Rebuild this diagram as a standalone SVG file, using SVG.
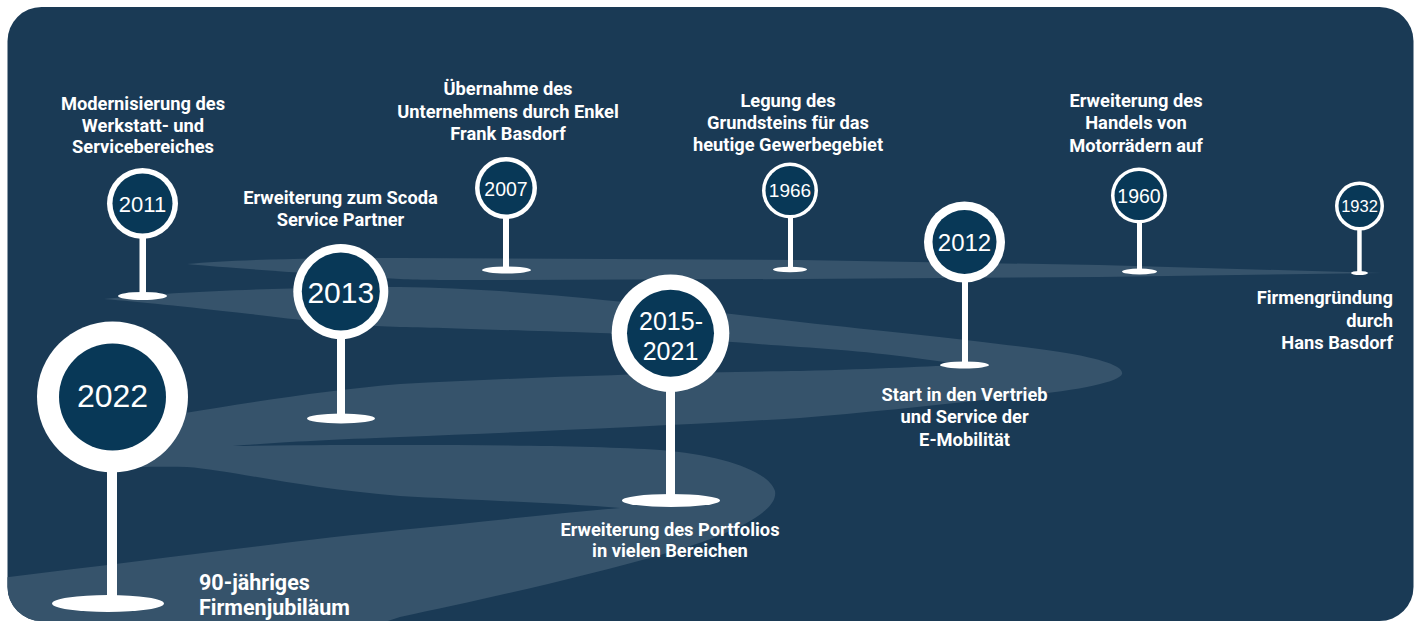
<svg xmlns="http://www.w3.org/2000/svg" width="1421" height="622" viewBox="0 0 1421 622">
<defs>
<clipPath id="card"><rect x="7.5" y="7" width="1406" height="614" rx="34"/></clipPath>
<style>
.bg{fill:#1a3a55}
.road{fill:#36536b}
.w{fill:#ffffff}
.core{fill:#083857}
.yr{font-family:"Liberation Sans",Arial,sans-serif;fill:#ffffff;text-anchor:middle}
.lbl{font-family:Roboto,"Liberation Sans",sans-serif;font-weight:700;fill:#ffffff;font-size:18.3px;text-anchor:middle}
</style>
</defs>
<rect class="bg" x="7.5" y="7" width="1406" height="614" rx="34"/>
<g id="road" clip-path="url(#card)">
<path class="road" d="M187,264 C230,260 300,258 400,258 L800,260 L1100,265 L1382,273 L1100,277 L800,279 L500,280 C450,280 420,280 400,279 C300,273 230,268 187,264 Z"/>
<path class="road" d="M104,299 C180,291 300,287 400,287 C520,288 680,308 800,322 C900,333 1000,343 1060,352 C1105,359 1124,367 1122,374 C1119,382 1080,391 1000,398 C930,406 860,413 800,418 C650,427 520,432 400,437 C320,440 270,443 233,446 C300,445 350,445 400,445 C500,445 600,446 660,450 C720,455 768,470 775,491 C779,512 730,535 667,553 C580,578 480,600 400,617 L330,640 L0,640 L0,578 C150,560 300,540 400,530 C480,522 560,513 620,508 C560,503 470,500 400,496 C300,488 230,470 187,467 C160,466 130,468 110,466 C80,462 60,440 90,428 C120,420 160,415 185,413 C250,402 330,390 400,384 C550,376 700,372 800,371 C880,369 930,366 965,365 C900,355 850,350 800,347 C700,340 650,335 600,333 C500,330 450,328 400,327 C330,324 300,320 250,314 C180,306 140,302 104,299 Z"/>
</g>
<g id="pin-1932">
<rect class="w" x="1357.2" y="206" width="4.5" height="67"/>
<ellipse class="w" cx="1359.5" cy="273" rx="8.5" ry="2"/>
<circle class="w" cx="1359.5" cy="206" r="24.5"/>
<circle class="core" cx="1359.5" cy="206" r="21"/>
<text class="yr" x="1359.5" y="212" font-size="16.5">1932</text>
<text class="lbl" style="text-anchor:end"><tspan x="1393" y="304">Firmengründung</tspan><tspan x="1393" y="326.5">durch</tspan><tspan x="1393" y="349">Hans Basdorf</tspan></text>
</g>
<g id="pin-1960">
<rect class="w" x="1137" y="196" width="5" height="75"/>
<ellipse class="w" cx="1139.5" cy="271.5" rx="17.5" ry="3"/>
<circle class="w" cx="1139" cy="195.5" r="28"/>
<circle class="core" cx="1139" cy="195.5" r="24.5"/>
<text class="yr" x="1139" y="203" font-size="19.5">1960</text>
<text class="lbl"><tspan x="1136" y="107">Erweiterung des</tspan><tspan x="1136" y="129">Handels von</tspan><tspan x="1136" y="152">Motorrädern auf</tspan></text>
</g>
<g id="pin-1966">
<rect class="w" x="788" y="190" width="5" height="80"/>
<ellipse class="w" cx="790" cy="269.5" rx="17" ry="2.8"/>
<circle class="w" cx="790" cy="190.5" r="28"/>
<circle class="core" cx="790" cy="190.5" r="24.5"/>
<text class="yr" x="790" y="197" font-size="19">1966</text>
<text class="lbl"><tspan x="788" y="107">Legung des</tspan><tspan x="788" y="129">Grundsteins für das</tspan><tspan x="788" y="151">heutige Gewerbegebiet</tspan></text>
</g>
<g id="pin-2007">
<rect class="w" x="503" y="188" width="6" height="82"/>
<ellipse class="w" cx="506.5" cy="270" rx="24.5" ry="3.5"/>
<circle class="w" cx="506" cy="188" r="31"/>
<circle class="core" cx="506" cy="188" r="26.5"/>
<text class="yr" x="506" y="196" font-size="19.5">2007</text>
<text class="lbl"><tspan x="508" y="95">Übernahme des</tspan><tspan x="508" y="117.5">Unternehmens durch Enkel</tspan><tspan x="508" y="140">Frank Basdorf</tspan></text>
</g>
<g id="pin-2011">
<rect class="w" x="139.5" y="204" width="6.5" height="92"/>
<ellipse class="w" cx="142.5" cy="296" rx="24.5" ry="4"/>
<circle class="w" cx="142.5" cy="203.5" r="35.5"/>
<circle class="core" cx="142.5" cy="203.5" r="30"/>
<text class="yr" x="142.5" y="212" font-size="22">2011</text>
<text class="lbl"><tspan x="143" y="110">Modernisierung des</tspan><tspan x="143" y="132">Werkstatt- und</tspan><tspan x="143" y="153">Servicebereiches</tspan></text>
</g>
<g id="pin-2012">
<rect class="w" x="962" y="242" width="6" height="123"/>
<ellipse class="w" cx="964.5" cy="365" rx="24.5" ry="3.5"/>
<circle class="w" cx="964.5" cy="242" r="40.5"/>
<circle class="core" cx="964.5" cy="242" r="32"/>
<text class="yr" x="964.5" y="251" font-size="24">2012</text>
<text class="lbl"><tspan x="964.5" y="401">Start in den Vertrieb</tspan><tspan x="964.5" y="423">und Service der</tspan><tspan x="964.5" y="445.5">E-Mobilität</tspan></text>
</g>
<g id="pin-2013">
<rect class="w" x="337" y="292" width="8" height="127"/>
<ellipse class="w" cx="341" cy="418.5" rx="34" ry="5"/>
<circle class="w" cx="340.8" cy="291.5" r="47.5"/>
<circle class="core" cx="340.8" cy="291.5" r="39"/>
<text class="yr" x="340.8" y="303" font-size="30">2013</text>
<text class="lbl"><tspan x="340.5" y="204">Erweiterung zum Scoda</tspan><tspan x="340.5" y="226">Service Partner</tspan></text>
</g>
<g id="pin-2015-2021">
<rect class="w" x="666" y="333" width="9" height="168"/>
<ellipse class="w" cx="671" cy="500.5" rx="49" ry="6.5"/>
<circle class="w" cx="670.5" cy="333.3" r="58.8"/>
<circle class="core" cx="670.5" cy="333.3" r="43.5"/>
<text class="yr" font-size="25"><tspan x="671" y="330">2015-</tspan><tspan x="670.5" y="360">2021</tspan></text>
<text class="lbl"><tspan x="670" y="536">Erweiterung des Portfolios</tspan><tspan x="670" y="557">in vielen Bereichen</tspan></text>
</g>
<g id="pin-2022">
<rect class="w" x="107" y="397" width="10" height="207"/>
<ellipse class="w" cx="108" cy="603.5" rx="56" ry="8.5"/>
<circle class="w" cx="112.5" cy="397" r="75.5"/>
<circle class="core" cx="112.5" cy="397" r="53.5"/>
<text class="yr" x="112.5" y="407" font-size="32">2022</text>
<text class="lbl" style="text-anchor:start;font-size:21.5px"><tspan x="199" y="590">90-jähriges</tspan><tspan x="199" y="615">Firmenjubiläum</tspan></text>
</g>
</svg>
